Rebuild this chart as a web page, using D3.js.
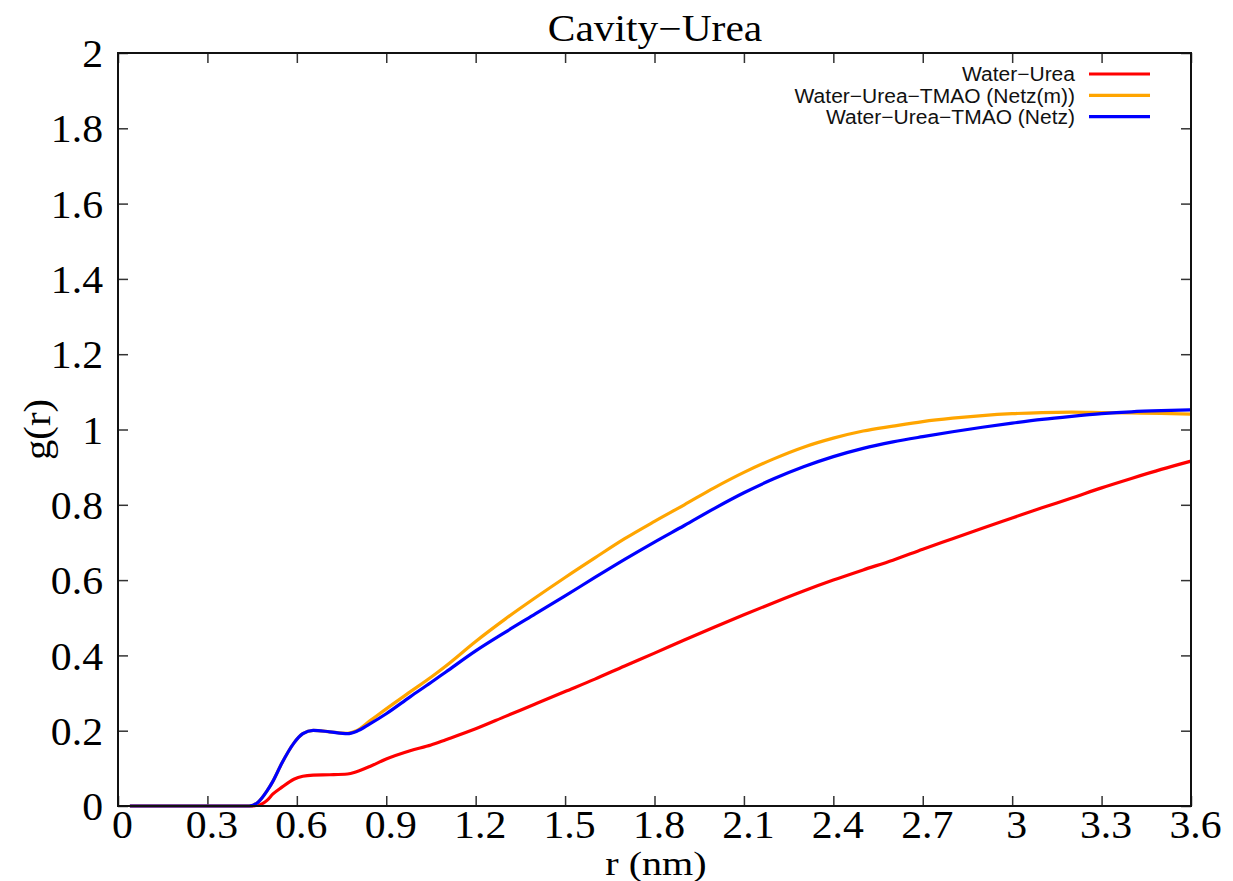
<!DOCTYPE html>
<html>
<head>
<meta charset="utf-8">
<script src="https://cdn.jsdelivr.net/npm/d3@7"></script>
<style>
  html, body { margin: 0; padding: 0; background: #fff; }
  svg { display: block; }
</style>
</head>
<body>
<svg id="chart" width="1233" height="881"></svg>
<script>
// Radial distances r (nm) shared by every series
const rValues = [0.04, 0.44, 0.47, 0.5, 0.52, 0.55, 0.59, 0.62, 0.655, 0.71, 0.77, 0.8, 0.845, 0.9, 0.98,
  1.05, 1.1, 1.2, 1.3, 1.4, 1.5, 1.6, 1.7, 1.8, 1.9, 2.0, 2.1, 2.2, 2.3, 2.4, 2.5, 2.6, 2.7, 2.8, 2.9,
  3.0, 3.1, 3.2, 3.3, 3.4, 3.5, 3.6];

// g(r) for each system
const waterUrea = [0, 0, 0.002, 0.015, 0.032, 0.05, 0.071, 0.079, 0.082, 0.083, 0.085, 0.091, 0.105, 0.125, 0.147,
  0.162, 0.176, 0.205, 0.238, 0.271, 0.304, 0.337, 0.372, 0.406, 0.441, 0.475, 0.508, 0.54, 0.571, 0.6, 0.627,
  0.653, 0.682, 0.71, 0.738, 0.765, 0.792, 0.818, 0.845, 0.87, 0.894, 0.916];

const waterUreaTmaoNetzM = [0, 0, 0.01, 0.04, 0.066, 0.114, 0.167, 0.192, 0.201, 0.197, 0.193, 0.2, 0.226, 0.258, 0.303,
  0.342, 0.372, 0.437, 0.497, 0.553, 0.607, 0.659, 0.71, 0.756, 0.8, 0.845, 0.886, 0.922, 0.953, 0.977, 0.996,
  1.009, 1.021, 1.03, 1.037, 1.042, 1.045, 1.046, 1.045, 1.044, 1.043, 1.041];

const waterUreaTmaoNetz = [0, 0, 0.01, 0.04, 0.066, 0.114, 0.167, 0.192, 0.201, 0.197, 0.192, 0.198, 0.218, 0.245, 0.29,
  0.328, 0.356, 0.412, 0.462, 0.51, 0.558, 0.607, 0.655, 0.701, 0.745, 0.79, 0.832, 0.869, 0.901, 0.928, 0.95,
  0.967, 0.981, 0.994, 1.006, 1.017, 1.027, 1.035, 1.042, 1.047, 1.05, 1.052];

const seriesNames = ["Water\u2212Urea", "Water\u2212Urea\u2212TMAO (Netz(m))", "Water\u2212Urea\u2212TMAO (Netz)"];
const seriesColors = ["#ff0000", "#ffa500", "#0000ff"];
const seriesValues = [waterUrea, waterUreaTmaoNetzM, waterUreaTmaoNetz];

const xTicks = [0, 0.3, 0.6, 0.9, 1.2, 1.5, 1.8, 2.1, 2.4, 2.7, 3, 3.3, 3.6];
const yTicks = [0, 0.2, 0.4, 0.6, 0.8, 1, 1.2, 1.4, 1.6, 1.8, 2];

const chartTitle = "Cavity\u2212Urea";
const xLabel = "r (nm)";
const yLabel = "g(r)";

// Plot frame
const plotLeft = 118, plotRight = 1191, plotTop = 53, plotBottom = 806;
const serif = "'Liberation Serif', 'Times New Roman', serif";
const sans = "'Liberation Sans', Arial, sans-serif";

const svg = d3.select("#chart");
const x = d3.scaleLinear().domain([0, 3.6]).range([plotLeft, plotRight]);
const y = d3.scaleLinear().domain([0, 2]).range([plotBottom, plotTop]);
const fmt = d => String(d);

// Stretch text horizontally by setting its rendered length
function stretch(sel, factor) {
  sel.each(function () {
    const len = this.getComputedTextLength();
    if (len > 0) {
      d3.select(this).attr("textLength", len * factor).attr("lengthAdjust", "spacingAndGlyphs");
    }
  });
}

// Inward ticks on all four sides
const tickLen = 10;
const tickStyle = g => {
  g.select(".domain").remove();
  g.selectAll(".tick line").attr("stroke", "#333").attr("stroke-width", 1.5);
};

svg.append("g").attr("transform", `translate(0,${plotBottom})`)
  .call(d3.axisBottom(x).tickValues(xTicks).tickFormat(fmt).tickSize(-tickLen).tickPadding(4))
  .call(tickStyle)
  .call(g => g.selectAll(".tick text")
    .attr("font-family", serif).attr("font-size", 39).attr("fill", "#000")
    .attr("dx", 4).attr("dy", "0.71em")
    .call(stretch, 1.07));

svg.append("g").attr("transform", `translate(0,${plotTop})`)
  .call(d3.axisTop(x).tickValues(xTicks).tickFormat("").tickSize(-tickLen))
  .call(tickStyle);

svg.append("g").attr("transform", `translate(${plotLeft},0)`)
  .call(d3.axisLeft(y).tickValues(yTicks).tickFormat(fmt).tickSize(-tickLen).tickPadding(15))
  .call(tickStyle)
  .call(g => g.selectAll(".tick text")
    .attr("font-family", serif).attr("font-size", 39).attr("fill", "#000")
    .attr("dy", "0.35em")
    .call(stretch, 1.07));

svg.append("g").attr("transform", `translate(${plotRight},0)`)
  .call(d3.axisRight(y).tickValues(yTicks).tickFormat("").tickSize(-tickLen))
  .call(tickStyle);

// Curves
const line = d3.line()
  .x((d, i) => x(rValues[i]))
  .y(d => y(d))
  .curve(d3.curveMonotoneX);

svg.append("g").selectAll("path")
  .data(seriesValues)
  .join("path")
  .attr("d", d => line(d))
  .attr("fill", "none")
  .attr("stroke", (d, i) => seriesColors[i])
  .attr("stroke-width", 3.2)
  .attr("stroke-linejoin", "round");

// Frame
svg.append("rect")
  .attr("x", plotLeft).attr("y", plotTop)
  .attr("width", plotRight - plotLeft).attr("height", plotBottom - plotTop)
  .attr("fill", "none").attr("stroke", "#111").attr("stroke-width", 2);

// Title and axis labels
svg.append("text")
  .attr("x", 655).attr("y", 41)
  .attr("text-anchor", "middle")
  .attr("font-family", serif).attr("font-size", 37)
  .text(chartTitle)
  .call(stretch, 1.12);

svg.append("text")
  .attr("x", 656).attr("y", 875)
  .attr("text-anchor", "middle")
  .attr("font-family", serif).attr("font-size", 34)
  .text(xLabel)
  .call(stretch, 1.18);

svg.append("text")
  .attr("transform", `translate(50,${(plotTop + plotBottom) / 2}) rotate(-90)`)
  .attr("text-anchor", "middle")
  .attr("font-family", serif).attr("font-size", 37)
  .text(yLabel)
  .call(stretch, 1.1);

// Legend
const legend = svg.append("g");
const rows = legend.selectAll("g")
  .data(seriesNames)
  .join("g")
  .attr("transform", (d, i) => `translate(0,${74 + i * 21.3})`);

rows.append("text")
  .attr("x", 1075).attr("y", 0).attr("dy", "0.36em")
  .attr("text-anchor", "end")
  .attr("font-family", sans).attr("font-size", 20)
  .attr("fill", "#111")
  .text(d => d)
  .call(stretch, 1.05);

rows.append("line")
  .attr("x1", 1089).attr("x2", 1150)
  .attr("y1", 0).attr("y2", 0)
  .attr("stroke", (d, i) => seriesColors[i])
  .attr("stroke-width", 3.2);
</script>
</body>
</html>
